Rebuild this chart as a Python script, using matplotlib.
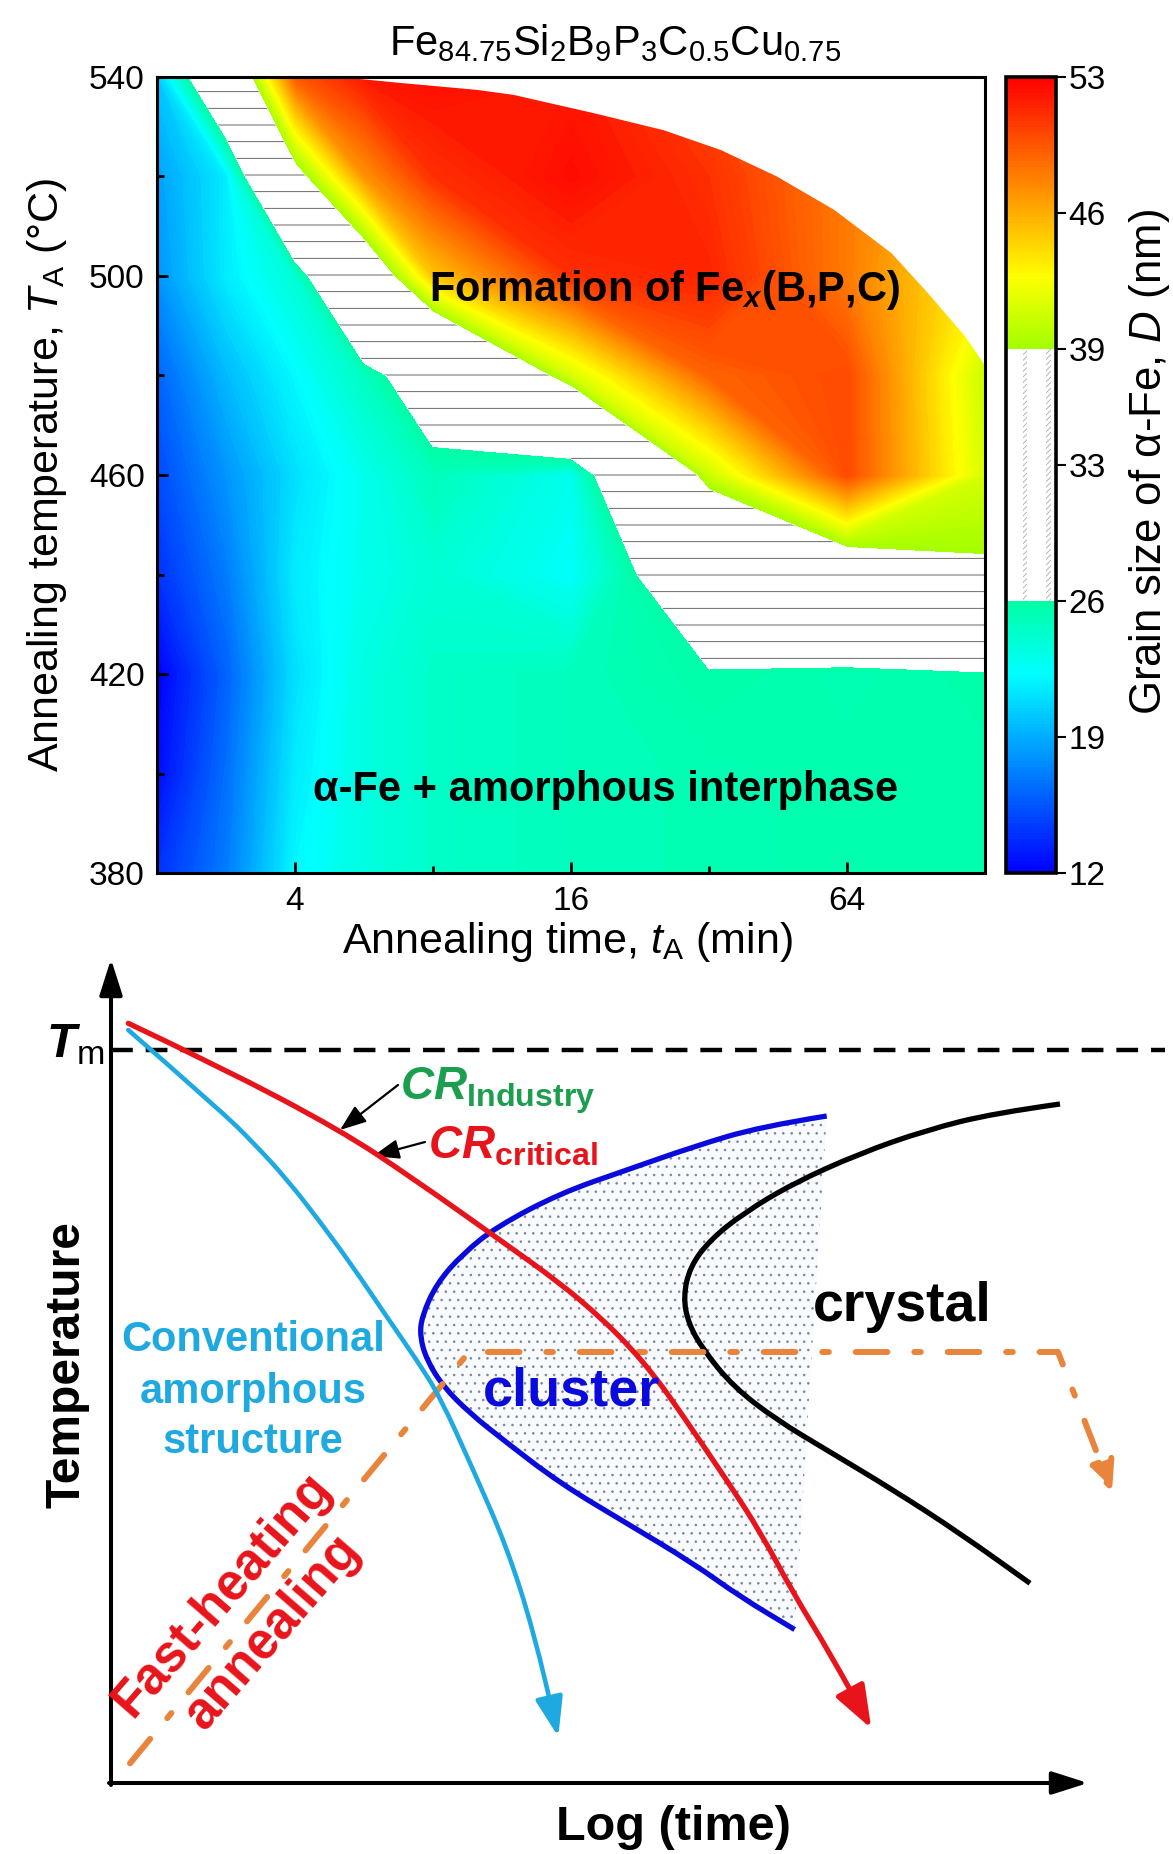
import matplotlib
matplotlib.use('Agg')
import matplotlib.pyplot as plt
import numpy as np
from matplotlib.colors import LinearSegmentedColormap, Normalize
from matplotlib.cm import ScalarMappable
from matplotlib.patches import Rectangle, FancyArrowPatch, PathPatch
from matplotlib.path import Path

plt.rcParams['font.family'] = ['Liberation Sans', 'DejaVu Sans']
plt.rcParams['mathtext.fontset'] = 'custom'
plt.rcParams['mathtext.rm'] = 'Liberation Sans'
plt.rcParams['mathtext.it'] = 'Liberation Sans:italic'
plt.rcParams['mathtext.bf'] = 'Liberation Sans:bold'
plt.rcParams['mathtext.bfit'] = 'Liberation Sans:italic:bold'
plt.rcParams['hatch.color'] = '#505050'
plt.rcParams['hatch.linewidth'] = 0.6

# ---------------- top panel: grain size map ----------------
times = [2, 2.83, 4, 5.66, 8, 16, 32, 64, 128]            # annealing time (min)
temps = [380, 400, 420, 440, 460, 480, 500, 520, 540]     # annealing temperature (C)
grain = [                                                 # D (nm), rows = temps
    [14.0, 17.0, 22.0, 23.5, 24.5, 25.0, 25.3, 25.5, 25.5],
    [12.5, 16.5, 21.5, 23.5, 24.5, 25.0, 25.3, 25.5, 25.5],
    [12.0, 16.0, 21.0, 23.5, 24.5, 25.0, 25.8, 25.3, 25.74],
    [14.0, 17.0, 21.5, 23.0, 24.0, 22.5, 29.8, 34.9, 38.5],
    [15.0, 18.0, 21.0, 23.0, 25.0, 23.0, 40.6, 50.0, 41.0],
    [16.0, 19.5, 22.1, 24.8, 28.5, 41.0, 49.0, 50.0, 40.5],
    [18.0, 21.5, 24.0, 34.5, 45.0, 51.0, 51.5, 48.0, 43.0],
    [18.5, 21.5, 37.5, 47.0, 51.0, 52.5, 51.0, 48.0, 45.0],
    [20.0, 33.0, 49.3, 52.0, 52.5, 52.0, 50.0, 48.0, 46.0],
]
# edge of the measured domain (no data above this line)
blank_time = [5.0, 6.8, 10, 12, 18, 25.5, 34, 45, 60, 80, 96, 116, 128, 140, 140, 5.0]
blank_temp = [540, 538.8, 537.4, 536.4, 532.7, 529.3, 525.3, 520, 513.3, 504.6,
              496.6, 487.8, 482, 482, 545, 545]
cbar_ticks = [12, 19, 26, 33, 39, 46, 53]

# ---------------- bottom panel: schematic ----------------
tm_level = 733
cool_conv_x = [17.3, 109, 142.3, 175.7, 209, 242.3, 275.7, 305.7, 329, 362.3, 395.7,
               422.3, 447.3]
cool_conv_y = [753, 673, 640.3, 604, 561.3, 515.7, 466.3, 423, 386.3, 313, 236.3,
               153, 46.3]
cool_crit_x = [17.3, 109, 229, 300, 389, 449, 490, 520, 545, 565.7, 615.7, 650, 682.3,
               719.2, 760.3]
cool_crit_y = [759.7, 716.3, 653, 606, 543, 500, 465, 435, 405, 376.3, 303, 250, 189.7,
               129.4, 54.5]
cluster_x = [715.7, 649, 582.3, 515.7, 449, 385.7, 352.3, 325.7, 310.7, 309, 315.7, 332.3,
             359, 392.3, 449, 515.7, 582.3, 629, 683.6]
cluster_y = [667, 656.3, 636.3, 613, 589.7, 556.3, 529.7, 499.7, 466.3, 446.3, 423, 396.3,
             369.7, 343, 299.7, 259.7, 219.7, 186.3, 153.5]
crystal_x = [949, 882.3, 815.7, 749, 682.3, 632.3, 599, 579, 572.3, 577.3, 592.3, 622.3,
             665.7, 715.7, 782.3, 849, 919]
crystal_y = [679, 669.7, 653, 629.7, 599.7, 569.7, 543, 516.3, 486.3, 459.7, 433, 396.3,
             363, 333, 293, 249.7, 199.7]
anneal_x = [19, 358, 947, 1001]
anneal_y = [19.7, 431, 431, 291]

cyan = '#1fa9e1'
red = '#e8141b'
blue = '#0a0adc'
orange = '#e8843c'
green = '#1c9e4f'


def smooth_path(xs, ys, close=False):
    # quadratic bezier through the mid points of the read points
    pts = np.column_stack([xs, ys])
    verts = [pts[0]]
    codes = [Path.MOVETO]
    for i in range(1, len(pts) - 1):
        verts += [pts[i], (pts[i] + pts[i + 1]) / 2]
        codes += [Path.CURVE3, Path.CURVE3]
    verts.append(pts[-1])
    codes.append(Path.LINETO)
    if close:
        verts.append(pts[0])
        codes.append(Path.CLOSEPOLY)
    return Path(verts, codes)


fig = plt.figure(figsize=(11.73, 18.54), dpi=100)

# ---- contour map
ax = fig.add_axes([157 / 1173, 1 - 873 / 1854, 828 / 1173, 796 / 1854])
xg = np.log2(times)
X, Y = np.meshgrid(xg, temps)
Z = np.array(grain)
cmap = LinearSegmentedColormap.from_list(
    'rainbow_o', ['#0000ff', '#00ffff', '#00ff00', '#ffff00', '#ff0000'])
norm = Normalize(12, 53)
ax.contourf(X, Y, Z, levels=np.linspace(12, 26, 71), cmap=cmap, norm=norm)
ax.contourf(X, Y, Z, levels=np.linspace(39, 53, 71), cmap=cmap, norm=norm)
ax.contourf(X, Y, Z, levels=[26, 39], colors='white', hatches=['-'])
ax.fill(np.log2(blank_time), blank_temp, color='white', lw=0, zorder=1.5)

ax.set_xlim(xg[0], xg[-1])
ax.set_ylim(temps[0], temps[-1])
ax.set_xticks(np.log2([4, 16, 64]))
ax.set_xticklabels(['4', '16', '64'])
ax.set_xticks(np.log2([8, 32]), minor=True)
ax.set_yticks([380, 420, 460, 500, 540])
ax.set_yticks([400, 440, 480, 520], minor=True)
ax.tick_params(which='both', direction='in', width=2, labelsize=24, pad=9)
ax.tick_params(which='major', length=8)
ax.tick_params(which='minor', length=5)
for s in ax.spines.values():
    s.set_linewidth(2.2)
    s.set_zorder(4)

ax.text(0.613, 0.733, r'Formation of Fe$_\mathbfit{x}$(B,P,C)', transform=ax.transAxes,
        ha='center', va='center', fontsize=30, fontweight='bold', zorder=5)
ax.text(0.5416, 0.104, 'α-Fe + amorphous interphase', transform=ax.transAxes,
        ha='center', va='center', fontsize=30, fontweight='bold', zorder=5)

fig.text(615 / 1173, 1 - 43 / 1854,
         r'Fe$_{84.75}$Si$_{2}$B$_{9}$P$_{3}$C$_{0.5}$Cu$_{0.75}$',
         ha='center', va='center', fontsize=30)
fig.text(47 / 1173, 1 - 475 / 1854, r'Annealing temperature, $T_\mathrm{A}$ (°C)',
         rotation=90, ha='center', va='center', fontsize=31)
fig.text(567 / 1173, 1 - 942 / 1854, r'Annealing time, $t_\mathrm{A}$ (min)',
         ha='center', va='center', fontsize=31)

# ---- colour bar
cax = fig.add_axes([1006 / 1173, 1 - 873 / 1854, 50 / 1173, 796 / 1854])
cb = fig.colorbar(ScalarMappable(norm=norm, cmap=cmap), cax=cax, ticks=cbar_ticks)
cax.add_patch(Rectangle((0, 26), 1, 13, facecolor='white', edgecolor='none', zorder=3))
for x0, w in [(0.33, 0.09), (0.80, 0.10)]:
    cax.add_patch(Rectangle((x0, 26), w, 13, facecolor='white', edgecolor='#aaaaaa',
                            lw=0, hatch='//////', zorder=3.5))
cb.outline.set_linewidth(2.6)
cb.outline.set_zorder(5)
cax.tick_params(direction='out', length=7, width=1.5, labelsize=24, pad=2)
fig.text(1149 / 1173, 1 - 462 / 1854, r'Grain size of α-Fe, $D$ (nm)', rotation=90,
         ha='center', va='center', fontsize=31.5)

# ---- schematic TTT diagram
ax2 = fig.add_axes([0, 0, 1, 924 / 1854])
ax2.set_xlim(-111, 1062)
ax2.set_ylim(-71, 853)
ax2.axis('off')

ax2.add_patch(PathPatch(smooth_path(cluster_x, cluster_y, close=True),
                        facecolor='#f8fafd', edgecolor='#72869f', lw=0, hatch='..',
                        zorder=1))
ax2.add_patch(PathPatch(smooth_path(cluster_x, cluster_y), fill=False, edgecolor=blue,
                        lw=3.8, zorder=3))
ax2.add_patch(PathPatch(smooth_path(crystal_x, crystal_y), fill=False, edgecolor='black',
                        lw=3.8, zorder=3))
ax2.plot([0, 1054], [tm_level, tm_level], color='black', lw=3.2, ls=(0, (4.9, 2.9)))

ax2.add_patch(FancyArrowPatch(path=Path(np.column_stack([anneal_x, anneal_y])),
                              arrowstyle='-|>,head_length=0.9,head_width=0.42',
                              mutation_scale=20, color=orange, lw=4.3,
                              linestyle=(0, (5.3, 4.5, 1.1, 4.5)), zorder=4))
ax2.add_patch(FancyArrowPatch(path=smooth_path(cool_conv_x, cool_conv_y),
                              arrowstyle='-|>,head_length=1.2,head_width=0.42',
                              mutation_scale=20, color=cyan, lw=3.3, zorder=5))
ax2.add_patch(FancyArrowPatch(path=smooth_path(cool_crit_x, cool_crit_y),
                              arrowstyle='-|>,head_length=1.3,head_width=0.48',
                              mutation_scale=20, color=red, lw=3.8, zorder=6))

axis_arrow = dict(arrowstyle='-|>,head_length=1.1,head_width=0.35', mutation_scale=20,
                  color='black', lw=2.9, shrinkA=0, shrinkB=0)
ax2.annotate('', xy=(0, 824), xytext=(0, -2), arrowprops=axis_arrow)
ax2.annotate('', xy=(977, 0), xytext=(-2, 0), arrowprops=axis_arrow)

small_arrow = dict(arrowstyle='-|>,head_length=0.8,head_width=0.3', mutation_scale=20,
                   color='black', lw=1.6, shrinkA=0, shrinkB=0)
ax2.annotate('', xy=(229, 653), xytext=(287, 698), arrowprops=small_arrow)
ax2.annotate('', xy=(262, 627), xytext=(314, 641), arrowprops=small_arrow)

ax2.text(289, 684, r'$\mathbfit{CR}_{\mathbf{Industry}}$', color=green, fontsize=33,
         ha='left', va='baseline')
ax2.text(317, 624, r'$\mathbfit{CR}_{\mathbf{critical}}$', color=red, fontsize=33,
         ha='left', va='baseline')
ax2.text(-36, 738, r'$\mathbfit{T}_{\mathrm{m}}$', fontsize=35, ha='center', va='center')

ax2.text(791, 476, 'crystal', fontsize=40, fontweight='bold', ha='center', va='center')
ax2.text(461, 391, 'cluster', color=blue, fontsize=39, fontweight='bold',
         ha='center', va='center', zorder=7)
for label, yy in [('Conventional', 443), ('amorphous', 391), ('structure', 341)]:
    ax2.text(142, yy, label, color=cyan, fontsize=30, fontweight='bold',
             ha='center', va='center')
ax2.text(111, 188, 'Fast-heating', color=red, fontsize=37, fontweight='bold',
         rotation=49, rotation_mode='anchor', ha='center', va='center')
ax2.text(162, 151, 'annealing', color=red, fontsize=37, fontweight='bold',
         rotation=49, rotation_mode='anchor', ha='center', va='center')
ax2.text(-44, 418, 'Temperature', fontsize=34.5, fontweight='bold', rotation=90,
         ha='center', va='center')
ax2.text(562, -44, 'Log (time)', fontsize=35, fontweight='bold', ha='center', va='center')

fig.savefig('out.png', dpi=100)
